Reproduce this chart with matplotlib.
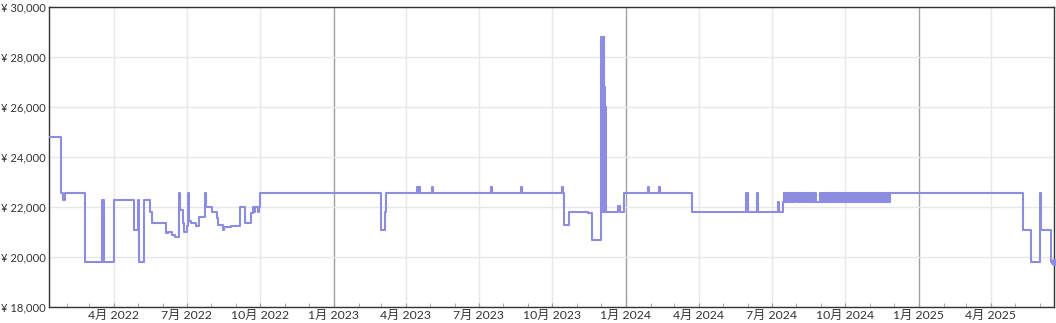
import matplotlib
matplotlib.use("Agg")
import matplotlib.pyplot as plt
import matplotlib.dates as mdates
import matplotlib.ticker as mticker
import pandas as pd

plt.rcParams['font.family'] = ['Lato', 'Noto Sans CJK JP', 'DejaVu Sans']

# price change points (price holds from that date on)
change_dates = [
    "2022-01-10", "2022-01-25", "2022-01-28", "2022-01-30", "2022-02-24",
    "2022-03-17", "2022-03-18", "2022-03-19", "2022-03-20", "2022-04-01",
    "2022-04-26", "2022-05-01", "2022-05-03", "2022-05-09", "2022-05-16",
    "2022-05-19", "2022-06-05", "2022-06-08", "2022-06-13", "2022-06-17",
    "2022-06-21", "2022-06-23", "2022-06-26", "2022-06-28", "2022-07-01",
    "2022-07-03", "2022-07-04", "2022-07-06", "2022-07-13", "2022-07-17",
    "2022-07-24", "2022-07-25", "2022-08-02", "2022-08-08", "2022-08-09",
    "2022-08-15", "2022-08-17", "2022-08-26", "2022-09-06", "2022-09-12",
    "2022-09-19", "2022-09-22", "2022-09-24", "2022-09-25", "2022-09-28",
    "2022-09-29", "2022-10-01",
    "2023-03-01", "2023-03-06", "2023-03-07", "2023-04-15", "2023-04-16",
    "2023-04-18", "2023-04-19", "2023-05-04", "2023-05-05", "2023-07-17",
    "2023-07-18", "2023-08-23", "2023-08-24", "2023-10-13", "2023-10-14",
    "2023-10-15", "2023-10-22", "2023-11-15", "2023-11-19",
    "2023-12-01 00:00", "2023-12-01 12:00", "2023-12-02 00:00", "2023-12-02 12:00",
    "2023-12-03 00:00", "2023-12-03 12:00", "2023-12-04 00:00", "2023-12-04 12:00",
    "2023-12-05 00:00", "2023-12-05 12:00", "2023-12-06 00:00", "2023-12-06 12:00",
    "2023-12-22", "2023-12-24", "2023-12-29",
    "2024-01-29", "2024-01-30", "2024-02-11", "2024-02-12", "2024-03-23",
    "2024-05-30", "2024-05-31", "2024-06-01", "2024-06-02", "2024-06-13",
    "2024-06-14", "2024-07-09", "2024-07-10", "2024-07-15",
]
change_prices = [
    24800, 22550, 22300, 22550, 19800,
    22300, 19800, 22300, 19800, 22300,
    21100, 22300, 19800, 22300, 21800,
    21350, 20950, 21000, 20900, 20800,
    22550, 21900, 21350, 21000, 21250,
    22550, 21450, 21350, 21250, 21600,
    22550, 22000, 21800, 21550, 21300,
    21100, 21200, 21250, 22000, 21350,
    21750, 22000, 21800, 22000, 21800,
    22000, 22550,
    21100, 21800, 22550, 22800, 22550,
    22800, 22550, 22800, 22550, 22800,
    22550, 22800, 22550, 22800, 22550,
    21300, 21800, 21750, 20700,
    28800, 21800, 28800, 21800,
    28800, 21800, 28800, 21800,
    26800, 21800, 26000, 21800,
    22050, 21800, 22550,
    22800, 22550, 22800, 22550, 21800,
    22550, 21800, 22550, 21800, 22550,
    21800, 22200, 21800, 22200,
]

# daily flicker Jul 16 - Nov 26 2024, H = 22550, L = 22200
band_start = "2024-07-16"
band_days = (
    "HLHLHLHLHLHLHLH" "HH" "LHLHLHLHL" "HH" "LHLHLHLHLHLHL" "LLLL"
    "HLHLHLHLHLHLHLHLHLHL" "HLHLHLHLHLHLHLHLHLHL"
    "HLHLHLHLHLHLHLHLHLHL" "HLHLHLHLHLHLHLHLHLHL" "HLHLHLHLH"
)
band_levels = {"H": 22550, "L": 22200}

tail_dates = ["2025-05-11", "2025-05-21", "2025-06-02", "2025-06-03",
              "2025-06-15", "2025-06-19"]
tail_prices = [21100, 19800, 22550, 21100, 19800, 19800]

x_start, x_end = "2022-01-10", "2025-06-19"

band_idx = pd.date_range(band_start, periods=len(band_days), freq="D")
dates = (list(pd.to_datetime(change_dates, format="mixed")) + list(band_idx)
         + list(pd.to_datetime(tail_dates)))
prices = change_prices + [band_levels[c] for c in band_days] + tail_prices

line_color = "#8c8ce0"
text_color = "#333333"

fig = plt.figure(figsize=(10.56, 3.23), dpi=100)
ax = fig.add_axes([49 / 1056, 16 / 323, 1005 / 1056, 300 / 323])

ax.plot(dates, prices, drawstyle="steps-post", color=line_color, lw=1.5, zorder=3)
ax.plot(dates[-1], prices[-1], "o", color=line_color, ms=4, zorder=4, clip_on=False)

ax.set_xlim(pd.Timestamp(x_start), pd.Timestamp(x_end))
ax.set_ylim(18000, 30000)

# grid: quarters light, year boundaries darker
ax.yaxis.set_major_locator(mticker.MultipleLocator(2000))
ax.yaxis.set_major_formatter(mticker.FuncFormatter(lambda v, p: "¥ {:,.0f}".format(v)))
ax.grid(axis="y", color="#e8e8e8", lw=1, zorder=0)

ax.xaxis.set_major_locator(mdates.MonthLocator(bymonth=[1, 4, 7, 10]))
ax.xaxis.set_major_formatter(mdates.DateFormatter("%-m月 %Y"))
ax.xaxis.set_minor_locator(mdates.MonthLocator())
for t in pd.date_range("2022-04-01", x_end, freq="QS"):
    if t.month == 1:
        ax.axvline(t, color="#a0a0a0", lw=1, zorder=1)
    else:
        ax.axvline(t, color="#e8e8e8", lw=1, zorder=0)

ax.tick_params(axis="x", which="both", direction="in", length=3, color="#999999",
               labelsize=8.8, labelcolor=text_color, pad=2)
ax.tick_params(axis="y", length=0, labelsize=8.1, labelcolor=text_color, pad=2.5)

for s in ax.spines.values():
    s.set_color("#333333")
    s.set_linewidth(1)

fig.savefig("out.png", dpi=100)
